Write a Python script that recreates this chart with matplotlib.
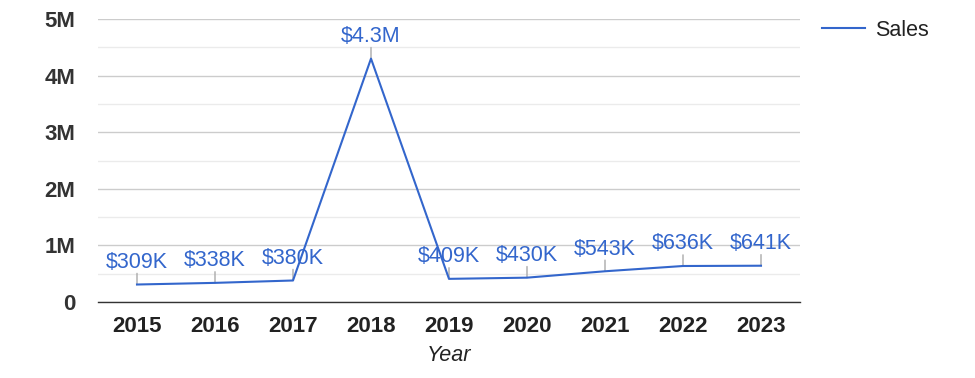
import matplotlib.pyplot as plt
import numpy as np

plt.rcParams['font.family'] = ['Liberation Sans', 'DejaVu Sans']

years = ['2015', '2016', '2017', '2018', '2019', '2020', '2021', '2022', '2023']
sales = [309e3, 338e3, 380e3, 4.3e6, 409e3, 430e3, 543e3, 636e3, 641e3]
sales_labels = ['$309K', '$338K', '$380K', '$4.3M', '$409K', '$430K', '$543K', '$636K', '$641K']
y_ticks = [0, 1e6, 2e6, 3e6, 4e6, 5e6]
y_tick_labels = ['0', '1M', '2M', '3M', '4M', '5M']

blue = '#3366cc'

fig = plt.figure(figsize=(9.75, 3.78), dpi=100)
ax = fig.add_axes([98/975, 1 - 302/378, 702/975, 283/378])

x = np.arange(len(years))
ax.plot(x, sales, color=blue, lw=1.5, label='Sales', zorder=3)

# labels with small gray stems
for i in range(len(years)):
    ax.annotate('', xy=(x[i], sales[i]), xytext=(0, 8), textcoords='offset points',
                arrowprops=dict(arrowstyle='-', color='#aaaaaa', lw=1, shrinkA=0, shrinkB=0),
                zorder=2)
    ax.annotate(sales_labels[i], xy=(x[i], sales[i]), xytext=(0, 12), textcoords='offset points',
                ha='center', va='baseline', color=blue, fontsize=15.5, zorder=4)

ax.set_xlim(-0.5, len(years) - 0.5)
ax.set_ylim(0, 5e6)
ax.set_xticks(x)
ax.set_xticklabels(years, fontsize=16, fontweight='bold', color='#222222')
ax.set_yticks(y_ticks)
ax.set_yticklabels(y_tick_labels, fontsize=16, fontweight='bold', color='#333333')
ax.set_yticks(np.arange(0.5e6, 5e6, 1e6), minor=True)
ax.tick_params(axis='both', which='both', length=0)
ax.tick_params(axis='x', pad=10)
ax.tick_params(axis='y', pad=16.5)

ax.grid(True, axis='y', which='major', color='#cccccc', lw=1)
ax.grid(True, axis='y', which='minor', color='#ebebeb', lw=1)
ax.set_axisbelow(True)
for s in ['top', 'right', 'left']:
    ax.spines[s].set_visible(False)
ax.spines['bottom'].set_color('#333333')
ax.spines['bottom'].set_linewidth(1)

ax.set_xlabel('Year', fontsize=15.5, fontstyle='italic', color='#222222', labelpad=6)

ax.legend(loc='center left', bbox_to_anchor=(822/975, 1 - 30/378), bbox_transform=fig.transFigure,
          frameon=False, fontsize=15.5, handlelength=2.0, handletextpad=0.45,
          borderpad=0, borderaxespad=0, labelcolor='#222222')

plt.savefig('out.png', dpi=100)
